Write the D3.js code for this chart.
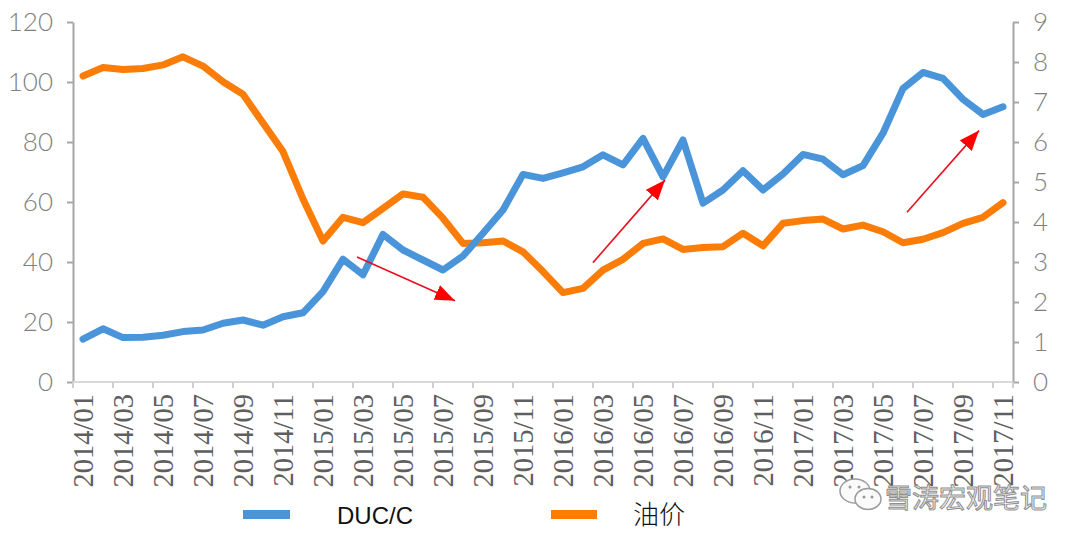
<!DOCTYPE html>
<html>
<head>
<meta charset="utf-8">
<script src="https://cdn.jsdelivr.net/npm/d3@7"></script>
<style>
  html, body { margin: 0; padding: 0; background: #fff; }
  svg { display: block; }
</style>
</head>
<body>
<svg id="chart" width="1080" height="543"></svg>
<script>
// ---- data ----
const months = [
  "2014/01","2014/02","2014/03","2014/04","2014/05","2014/06","2014/07","2014/08","2014/09","2014/10","2014/11","2014/12",
  "2015/01","2015/02","2015/03","2015/04","2015/05","2015/06","2015/07","2015/08","2015/09","2015/10","2015/11","2015/12",
  "2016/01","2016/02","2016/03","2016/04","2016/05","2016/06","2016/07","2016/08","2016/09","2016/10","2016/11","2016/12",
  "2017/01","2017/02","2017/03","2017/04","2017/05","2017/06","2017/07","2017/08","2017/09","2017/10","2017/11"
];
// DUC/C ratio (right axis)
const ducC = [1.07,1.33,1.11,1.12,1.17,1.26,1.30,1.47,1.55,1.42,1.63,1.73,
  2.26,3.07,2.68,3.69,3.30,3.05,2.80,3.15,3.72,4.30,5.19,5.09,
  5.23,5.38,5.68,5.43,6.09,5.13,6.05,4.47,4.80,5.28,4.80,5.20,
  5.69,5.57,5.18,5.41,6.22,7.34,7.74,7.59,7.07,6.69,6.88];
// Oil price (left axis)
const oilPrice = [102,104.8,104.2,104.5,105.7,108.4,105.3,100.1,95.9,86.3,76.8,61,
  47,54.9,53.1,57.9,62.7,61.6,54.6,46.2,46.4,47,43.4,36.8,
  29.8,31.2,37.3,40.9,46.2,47.7,44.2,44.8,45.1,49.6,45.4,52.9,
  53.8,54.3,51,52.3,50.1,46.4,47.6,49.8,52.9,54.9,59.8];
const leftTicks = [0,20,40,60,80,100,120];
const rightTicks = [0,1,2,3,4,5,6,7,8,9];
const seriesNames = ["DUC/C","油价"];
// annotation arrows: [fromIndex, fromLeftValue, toIndex, toLeftValue]
const arrows = [
  [13.7, 41.7, 18.6, 27.1],
  [25.5, 39.8, 29.1, 67.3],
  [41.2, 56.6, 44.8, 83.8]
];
const watermark = "雪涛宏观笔记";

// ---- layout ----
const svg = d3.select("#chart");
const L = 73, R = 1013, T = 22, B = 382;
const blue = "#4a94da", orange = "#fb7d08";
const axisGray = "#a6a6a6", labelGray = "#7f7f7f";

const x = d3.scaleBand().domain(months).range([L, R]).paddingInner(0).paddingOuter(0);
const xc = d => x(d) + x.bandwidth() / 2;
const xi = d3.scaleLinear().domain([-0.5, months.length - 0.5]).range([L, R]);
const yL = d3.scaleLinear().domain([0, 120]).range([B, T]);
const yR = d3.scaleLinear().domain([0, 9]).range([B, T]);

// left axis
const gL = svg.append("g").attr("transform", `translate(${L},0)`)
  .call(d3.axisLeft(yL).tickValues(leftTicks).tickSize(6).tickSizeOuter(0).tickPadding(14));
gL.select(".domain").attr("stroke", axisGray).attr("stroke-width", 2);
gL.selectAll(".tick line").attr("stroke", axisGray).attr("stroke-width", 2);
gL.selectAll(".tick text").attr("fill", labelGray)
  .style("font-family", "Lato, 'Open Sans', 'DejaVu Sans', sans-serif")
  .style("font-weight", 300).style("font-size", "26px");

// right axis
const gR = svg.append("g").attr("transform", `translate(${R},0)`)
  .call(d3.axisRight(yR).tickValues(rightTicks).tickSize(6).tickSizeOuter(0).tickPadding(14));
gR.select(".domain").attr("stroke", axisGray).attr("stroke-width", 2);
gR.selectAll(".tick line").attr("stroke", axisGray).attr("stroke-width", 2);
gR.selectAll(".tick text").attr("fill", labelGray)
  .style("font-family", "Lato, 'Open Sans', 'DejaVu Sans', sans-serif")
  .style("font-weight", 300).style("font-size", "26px");

// bottom axis (Excel-style, ticks between categories every 2)
const tickEdges = months.filter((d, i) => i % 2 === 0).map(d => x(d));
tickEdges.push(R);
const gB = svg.append("g");
gB.append("line").attr("x1", L).attr("x2", R).attr("y1", B).attr("y2", B)
  .attr("stroke", "#d9d9d9").attr("stroke-width", 2);
gB.selectAll("line.t").data(tickEdges).join("line").attr("class", "t")
  .attr("x1", d => d).attr("x2", d => d).attr("y1", B).attr("y2", B + 6)
  .attr("stroke", "#d0d0d0").attr("stroke-width", 2);
gB.selectAll("text").data(months.filter((d, i) => i % 2 === 0)).join("text")
  .attr("transform", d => `translate(${xc(d)},${B + 12}) rotate(-90)`)
  .attr("text-anchor", "end").attr("dy", "0.35em")
  .attr("fill", "#5f5f5f")
  .style("font-family", "'Liberation Serif', 'DejaVu Serif', serif")
  .style("font-size", "28.5px")
  .text(d => d);

// lines
const lineOil = d3.line().x((d, i) => xc(months[i])).y(d => yL(d));
const lineDuc = d3.line().x((d, i) => xc(months[i])).y(d => yR(d));
svg.append("path").datum(oilPrice).attr("d", lineOil).attr("fill", "none")
  .attr("stroke", orange).attr("stroke-width", 7).attr("stroke-linejoin", "round").attr("stroke-linecap", "round");
svg.append("path").datum(ducC).attr("d", lineDuc).attr("fill", "none")
  .attr("stroke", blue).attr("stroke-width", 7).attr("stroke-linejoin", "round").attr("stroke-linecap", "round");

// arrows
const defs = svg.append("defs");
defs.append("marker").attr("id", "ah").attr("markerUnits", "userSpaceOnUse")
  .attr("viewBox", "0 0 20 16").attr("refX", 20).attr("refY", 8)
  .attr("markerWidth", 20).attr("markerHeight", 16).attr("orient", "auto")
  .append("path").attr("d", "M0,0 L20,8 L0,16 Z").attr("fill", "#ff0000");
svg.selectAll("line.arrow").data(arrows).join("line").attr("class", "arrow")
  .attr("x1", d => xi(d[0])).attr("y1", d => yL(d[1]))
  .attr("x2", d => xi(d[2])).attr("y2", d => yL(d[3]))
  .attr("stroke", "#e8101c").attr("stroke-width", 1.6).attr("marker-end", "url(#ah)");

// legend
const leg = svg.append("g");
leg.append("rect").attr("x", 243).attr("y", 510).attr("width", 47).attr("height", 9).attr("fill", blue);
leg.append("text").attr("x", 337).attr("y", 524).text(seriesNames[0])
  .style("font-family", "'Liberation Sans', Arial, sans-serif").style("font-size", "24px").attr("fill", "#111");
leg.append("rect").attr("x", 551).attr("y", 510).attr("width", 46).attr("height", 9).attr("fill", orange);
leg.append("text").attr("x", 633).attr("y", 524).text(seriesNames[1])
  .style("font-family", "'Noto Sans CJK SC', sans-serif").style("font-weight", 300).style("font-size", "26px").attr("fill", "#111");

// watermark
const wm = svg.append("g");
wm.append("ellipse").attr("cx", 855).attr("cy", 491).attr("rx", 15).attr("ry", 12)
  .attr("fill", "#fafafa").attr("stroke", "#9a9a9a").attr("stroke-width", 1.5);
wm.append("ellipse").attr("cx", 868).attr("cy", 499).attr("rx", 13).attr("ry", 10.5)
  .attr("fill", "#fafafa").attr("stroke", "#9a9a9a").attr("stroke-width", 1.5);
[[850,487],[859,487],[864,497],[872,497]].forEach(p =>
  wm.append("circle").attr("cx", p[0]).attr("cy", p[1]).attr("r", 1.5).attr("fill", "#9a9a9a"));
wm.append("text").attr("x", 885).attr("y", 508).text(watermark)
  .style("font-family", "'Noto Sans CJK SC', sans-serif").style("font-size", "27px")
  .attr("fill", "#f4f4f4").attr("stroke", "#8f8f8f").attr("stroke-width", 1);
</script>
</body>
</html>
